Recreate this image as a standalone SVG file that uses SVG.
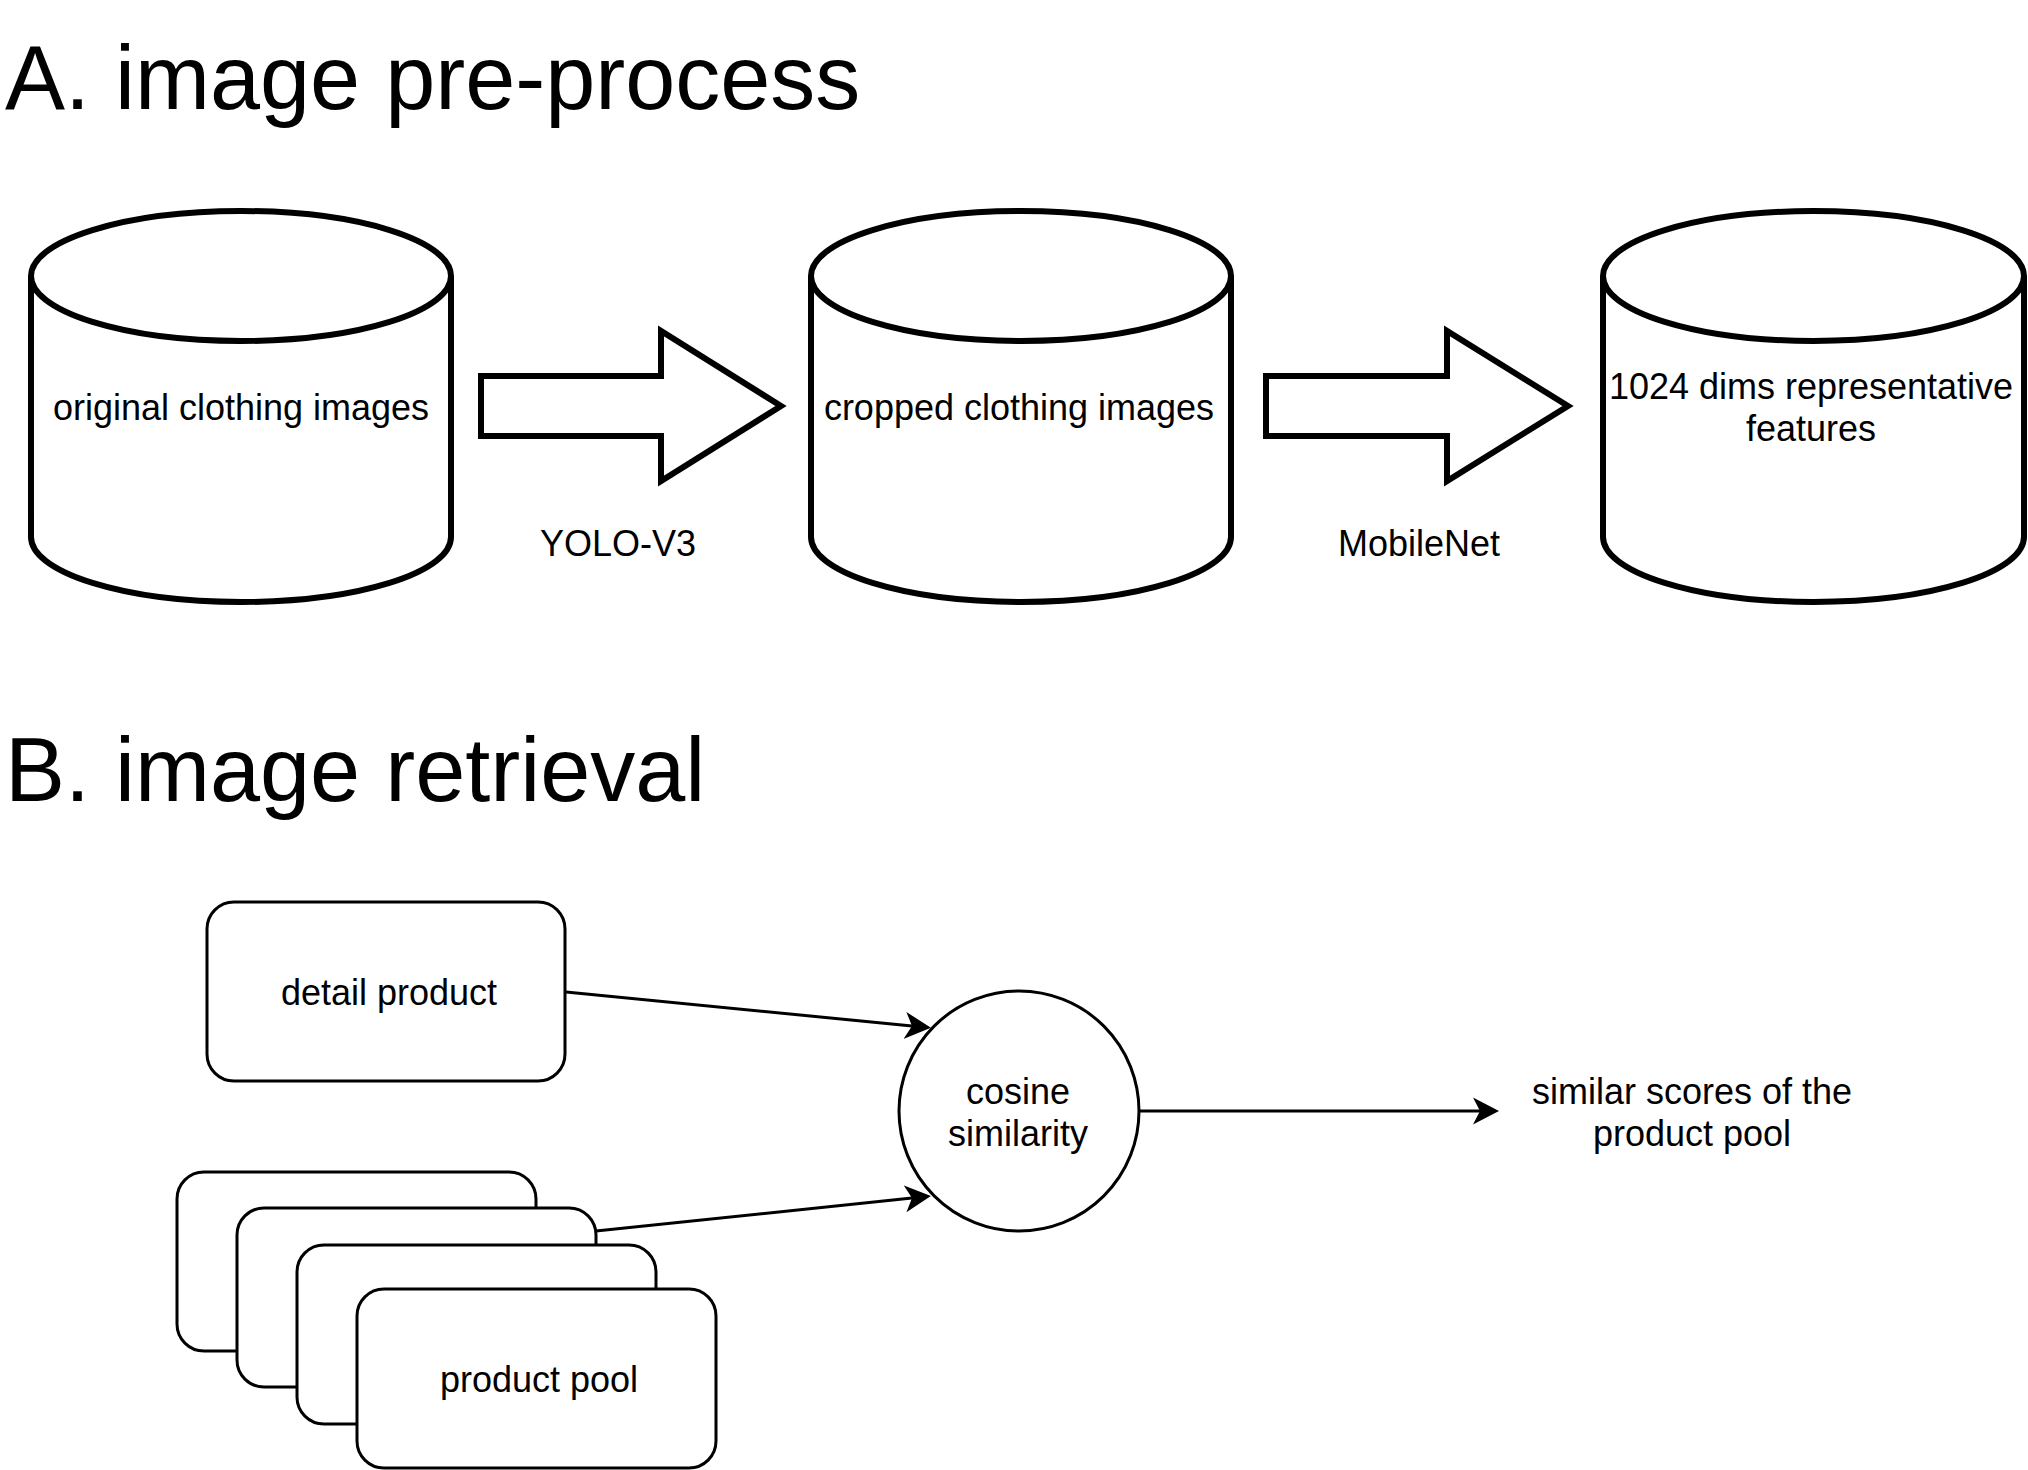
<svg xmlns="http://www.w3.org/2000/svg" width="2028" height="1470" viewBox="0 0 2028 1470">
<style>
text{font-family:"Liberation Sans",Arial,Helvetica,sans-serif;fill:#000}
.t{font-size:36px;text-anchor:middle}
.h{font-size:90px}
.cyl{fill:#fff;stroke:#000;stroke-width:6}
.blk{fill:#fff;stroke:#000;stroke-width:6;stroke-linejoin:miter}
.box{fill:#fff;stroke:#000;stroke-width:3}
.ln{fill:none;stroke:#000;stroke-width:3}
</style>
<defs>
<marker id="ah" markerUnits="userSpaceOnUse" markerWidth="30" markerHeight="30" viewBox="0 0 30 30" refX="7" refY="15" orient="auto">
<path d="M0,1.5 L26,15 L0,28.5 L7,15 Z" fill="#000"/>
</marker>
</defs>
<rect width="2028" height="1470" fill="#fff"/>
<text class="h" x="5" y="109">A. image pre-process</text>
<text class="h" x="5" y="801">B. image retrieval</text>

<g id="cyl1">
<path class="cyl" d="M31,276 A210,65 0 0 1 451,276 L451,537 A210,65 0 0 1 31,537 Z"/>
<path class="cyl" fill="none" d="M31,276 A210,65 0 0 0 451,276"/>
<text class="t" x="241" y="420">original clothing images</text>
</g>
<g id="cyl2">
<path class="cyl" d="M811,276 A210,65 0 0 1 1231,276 L1231,537 A210,65 0 0 1 811,537 Z"/>
<path class="cyl" fill="none" d="M811,276 A210,65 0 0 0 1231,276"/>
<text class="t" x="1019" y="420">cropped clothing images</text>
</g>
<g id="cyl3">
<path class="cyl" d="M1603,276 A210.5,65 0 0 1 2024,276 L2024,537 A210.5,65 0 0 1 1603,537 Z"/>
<path class="cyl" fill="none" d="M1603,276 A210.5,65 0 0 0 2024,276"/>
<text class="t" x="1811" y="399">1024 dims representative</text>
<text class="t" x="1811" y="441">features</text>
</g>

<g id="arrow-yolo">
<polygon class="blk" points="481,376 661,376 661,331 781,406 661,481 661,436 481,436"/>
<text class="t" x="618" y="556">YOLO-V3</text>
</g>
<g id="arrow-mobilenet">
<polygon class="blk" points="1266,376 1447,376 1447,331 1568,406 1447,481 1447,436 1266,436"/>
<text class="t" x="1419" y="556">MobileNet</text>
</g>

<g id="detail-product">
<rect class="box" x="207" y="902" width="358" height="179" rx="27" ry="27"/>
<text class="t" x="389" y="1005">detail product</text>
</g>

<g id="product-pool">
<rect class="box" x="177" y="1172" width="359" height="179" rx="27" ry="27"/>
<rect class="box" x="237" y="1208" width="359" height="179" rx="27" ry="27"/>
<rect class="box" x="297" y="1245" width="359" height="179" rx="27" ry="27"/>
<rect class="box" x="357" y="1289" width="359" height="179" rx="27" ry="27"/>
<text class="t" x="539" y="1392">product pool</text>
</g>

<g id="cosine">
<circle class="box" cx="1019" cy="1111" r="120"/>
<text class="t" x="1018" y="1104">cosine</text>
<text class="t" x="1018" y="1146">similarity</text>
</g>

<g id="scores">
<text class="t" x="1692" y="1104">similar scores of the</text>
<text class="t" x="1692" y="1146">product pool</text>
</g>

<g id="connectors">
<line class="ln" x1="566" y1="992" x2="912" y2="1026" marker-end="url(#ah)"/>
<line class="ln" x1="596" y1="1231" x2="912" y2="1198" marker-end="url(#ah)"/>
<line class="ln" x1="1139" y1="1111" x2="1480" y2="1111" marker-end="url(#ah)"/>
</g>
</svg>
